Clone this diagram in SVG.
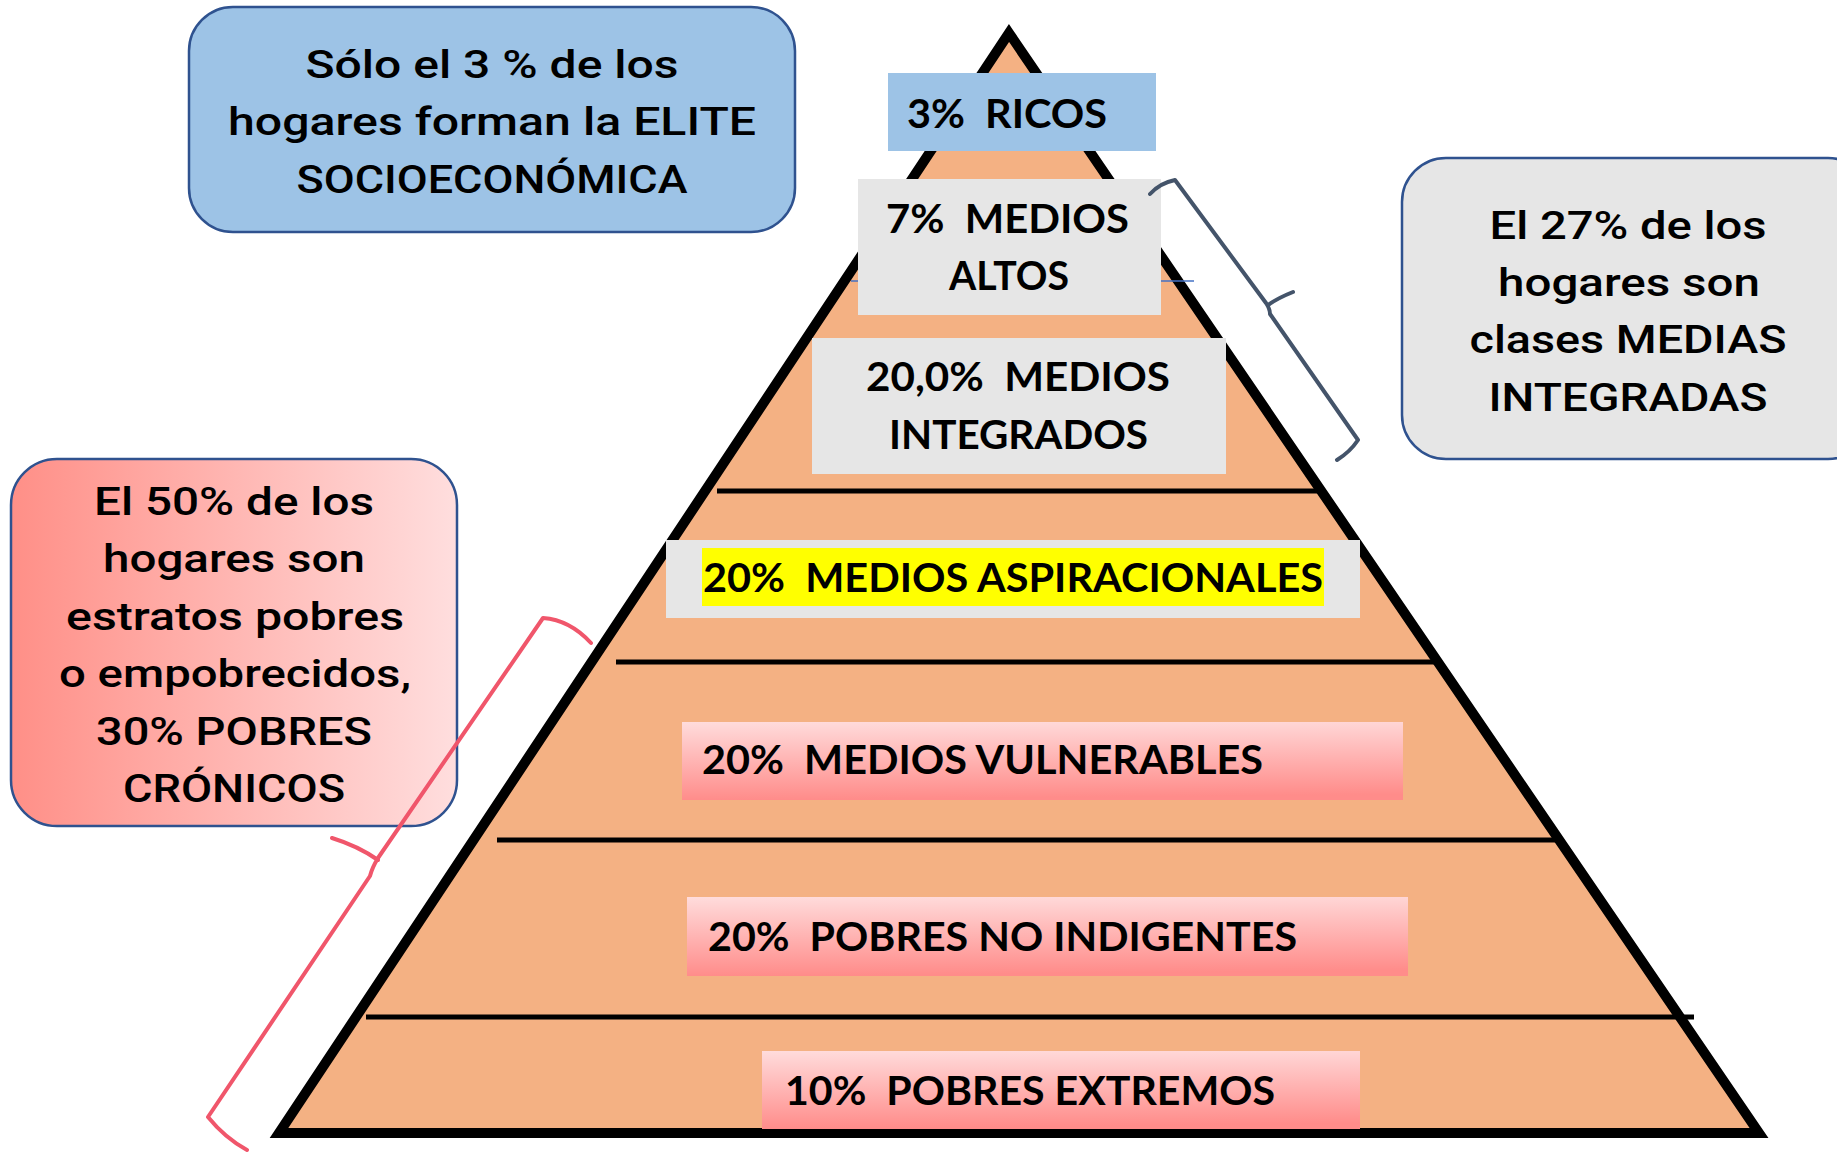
<svg xmlns="http://www.w3.org/2000/svg" width="1837" height="1153" viewBox="0 0 1837 1153">
<defs>
<linearGradient id="gPink" x1="0" y1="0" x2="0.08" y2="1">
<stop offset="0" stop-color="#FFDCDC"/>
<stop offset="1" stop-color="#FF8C8A"/>
</linearGradient>
<linearGradient id="gSide" x1="0" y1="0" x2="1" y2="0">
<stop offset="0" stop-color="#FF8F87"/>
<stop offset="1" stop-color="#FFDEDE"/>
</linearGradient>
<style>
.lbl{font-family:Lato,"Open Sans","Liberation Sans",sans-serif;font-weight:700;font-size:40px;fill:#000;white-space:pre}
.call{font-family:Roboto,"Noto Sans","Liberation Sans",sans-serif;font-weight:500;font-size:38px;fill:#000;text-anchor:middle}
.div{stroke:#000;stroke-width:5;fill:none}
.callbox{stroke:#2F528F;stroke-width:2.5}
.grey{fill:#E6E6E6}
</style>
</defs>
<rect width="1837" height="1153" fill="#FFFFFF"/>

<g id="pyramid">
<path d="M1009,33 L1759,1133 L279,1133 Z" fill="#F4B183" stroke="#000" stroke-width="10" stroke-linejoin="miter"/>
<line x1="851" y1="281" x2="1194" y2="281" stroke="#4472C4" stroke-width="1.5"/>
<line class="div" x1="717" y1="491" x2="1318" y2="491"/>
<line class="div" x1="616" y1="662" x2="1435" y2="662"/>
<line class="div" x1="497" y1="840" x2="1556" y2="840"/>
<line class="div" x1="366" y1="1017" x2="1694" y2="1017"/>
</g>

<g id="level-ricos">
<rect x="888" y="73" width="268" height="78" fill="#9DC3E6"/>
<text class="lbl" x="907" y="128" textLength="200" lengthAdjust="spacingAndGlyphs" xml:space="preserve">3%  RICOS</text>
</g>

<g id="level-medios-altos">
<rect class="grey" x="858" y="179" width="303" height="136"/>
<text class="lbl" x="886" y="233" textLength="243" lengthAdjust="spacingAndGlyphs" xml:space="preserve">7%  MEDIOS</text>
<text class="lbl" x="949" y="290" textLength="120" lengthAdjust="spacingAndGlyphs">ALTOS</text>
</g>

<g id="level-medios-integrados">
<rect class="grey" x="812" y="338" width="414" height="136"/>
<text class="lbl" x="866" y="391" textLength="304" lengthAdjust="spacingAndGlyphs" xml:space="preserve">20,0%  MEDIOS</text>
<text class="lbl" x="889" y="449" textLength="259" lengthAdjust="spacingAndGlyphs">INTEGRADOS</text>
</g>

<g id="level-medios-aspiracionales">
<rect class="grey" x="666" y="540" width="694" height="78"/>
<rect x="702" y="548" width="622" height="58" fill="#FFFF00"/>
<text class="lbl" x="703" y="592" textLength="620" lengthAdjust="spacingAndGlyphs" xml:space="preserve">20%  MEDIOS ASPIRACIONALES</text>
</g>

<g id="level-medios-vulnerables">
<rect x="682" y="722" width="721" height="78" fill="url(#gPink)"/>
<text class="lbl" x="702" y="774" textLength="561" lengthAdjust="spacingAndGlyphs" xml:space="preserve">20%  MEDIOS VULNERABLES</text>
</g>

<g id="level-pobres-no-indigentes">
<rect x="687" y="897" width="721" height="79" fill="url(#gPink)"/>
<text class="lbl" x="708" y="951" textLength="589" lengthAdjust="spacingAndGlyphs" xml:space="preserve">20%  POBRES NO INDIGENTES</text>
</g>

<g id="level-pobres-extremos">
<rect x="762" y="1051" width="598" height="78" fill="url(#gPink)"/>
<text class="lbl" x="785" y="1105" textLength="490" lengthAdjust="spacingAndGlyphs" xml:space="preserve">10%  POBRES EXTREMOS</text>
</g>

<g id="callout-elite">
<rect class="callbox" x="189" y="7" width="606" height="225" rx="44" ry="44" fill="#9DC3E6"/>
<text class="call" x="492" y="78" textLength="373" lengthAdjust="spacingAndGlyphs">Sólo el 3 % de los</text>
<text class="call" x="492" y="135" textLength="528" lengthAdjust="spacingAndGlyphs">hogares forman la ELITE</text>
<text class="call" x="492" y="193" textLength="391" lengthAdjust="spacingAndGlyphs">SOCIOECONÓMICA</text>
</g>

<g id="callout-medias">
<rect class="callbox grey" x="1402" y="158" width="470" height="301" rx="44" ry="44"/>
<text class="call" x="1628" y="239" textLength="277" lengthAdjust="spacingAndGlyphs">El 27% de los</text>
<text class="call" x="1629" y="296" textLength="262" lengthAdjust="spacingAndGlyphs">hogares son</text>
<text class="call" x="1628" y="353" textLength="317" lengthAdjust="spacingAndGlyphs">clases MEDIAS</text>
<text class="call" x="1628" y="411" textLength="279" lengthAdjust="spacingAndGlyphs">INTEGRADAS</text>
</g>

<g id="callout-pobres">
<rect class="callbox" x="11" y="459" width="446" height="367" rx="46" ry="46" fill="url(#gSide)"/>
<text class="call" x="234" y="515" textLength="280" lengthAdjust="spacingAndGlyphs">El 50% de los</text>
<text class="call" x="234" y="572" textLength="262" lengthAdjust="spacingAndGlyphs">hogares son</text>
<text class="call" x="235" y="630" textLength="338" lengthAdjust="spacingAndGlyphs">estratos pobres</text>
<text class="call" x="235" y="687" textLength="352" lengthAdjust="spacingAndGlyphs">o empobrecidos,</text>
<text class="call" x="234" y="745" textLength="276" lengthAdjust="spacingAndGlyphs">30% POBRES</text>
<text class="call" x="234" y="802" textLength="222" lengthAdjust="spacingAndGlyphs">CRÓNICOS</text>
</g>

<g id="connectors" fill="none" stroke-linecap="round" stroke-linejoin="round">
<path d="M1150,194 Q1160,183 1175,180 L1266,303 Q1270,309 1270,314 L1358,440 Q1350,452 1337,460 M1293,292 Q1278,298 1268,305" stroke="#44546A" stroke-width="4"/>
<path d="M591,643 Q570,620 543,618 L378,858 Q372,868 370,876 L208,1117 Q225,1138 247,1150 M332,838 Q358,846 378,860" stroke="#F0566B" stroke-width="4"/>
</g>
</svg>
